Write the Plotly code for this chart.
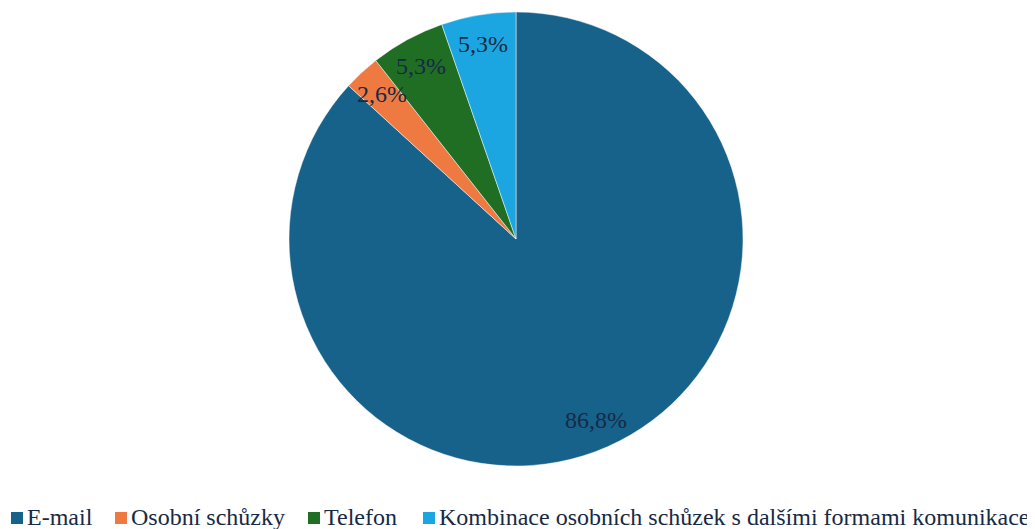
import math
import plotly.graph_objects as go

categories = ["E-mail", "Osobní schůzky", "Telefon",
              "Kombinace osobních schůzek s dalšími formami komunikace"]
values = [86.8, 2.6, 5.3, 5.3]
value_labels = ["86,8%", "2,6%", "5,3%", "5,3%"]
colors = ["#17628a", "#ee7a42", "#1f6e24", "#1ca6e1"]

SERIF = "Liberation Serif, Times New Roman, serif"
TEXT_COLOR = "#172a45"
OFF = 8                      # page body margin
W, H = 1035 - OFF, 529 - OFF  # figure size
cx, cy, R = 516 - OFF, 239 - OFF, 227
label_r = 0.87

fig = go.Figure()
fig.add_trace(go.Pie(
    labels=categories,
    values=values,
    sort=False,
    direction="clockwise",
    rotation=0,
    textinfo="none",
    hoverinfo="label+percent",
    showlegend=False,
    marker=dict(colors=colors, line=dict(color="rgba(255,255,255,0.6)", width=0.8)),
    domain=dict(x=[(cx - R) / W, (cx + R) / W], y=[1 - (cy + R) / H, 1 - (cy - R) / H]),
))

# data labels ("inside end") computed from the values
total = sum(values)
cum = 0.0
for v, t in zip(values, value_labels):
    mid = (cum + v / 2) / total * 2 * math.pi
    cum += v
    px = cx + label_r * R * math.sin(mid)
    py = cy - label_r * R * math.cos(mid)
    fig.add_annotation(x=px / W, y=1 - py / H, xref="paper", yref="paper",
                       xanchor="center", yanchor="middle",
                       text=t, showarrow=False,
                       font=dict(family=SERIF, size=24, color=TEXT_COLOR))

# legend row (Excel-style: small square + label)
legend_sym_x = [11, 115, 308, 423]   # page px, left edge of square
SYM = 12
legend_y = 518                       # page px, row centre
for name, col, sx in zip(categories, colors, legend_sym_x):
    x0 = sx - OFF
    fig.add_shape(type="rect", xref="paper", yref="paper",
                  x0=x0 / W, x1=(x0 + SYM) / W,
                  y0=1 - (legend_y - OFF + SYM / 2) / H, y1=1 - (legend_y - OFF - SYM / 2) / H,
                  fillcolor=col, line=dict(width=0))
    fig.add_annotation(x=(x0 + SYM + 2) / W, y=1 - (legend_y - OFF - 1) / H,
                       xref="paper", yref="paper", xanchor="left", yanchor="middle",
                       text=name, showarrow=False,
                       font=dict(family=SERIF, size=24, color=TEXT_COLOR))

fig.update_layout(
    width=W, height=H,
    margin=dict(l=0, r=0, t=0, b=0, autoexpand=False),
    paper_bgcolor="white",
    plot_bgcolor="white",
    font=dict(family=SERIF, size=24, color=TEXT_COLOR),
    showlegend=False,
)

fig.write_html("out.html")
